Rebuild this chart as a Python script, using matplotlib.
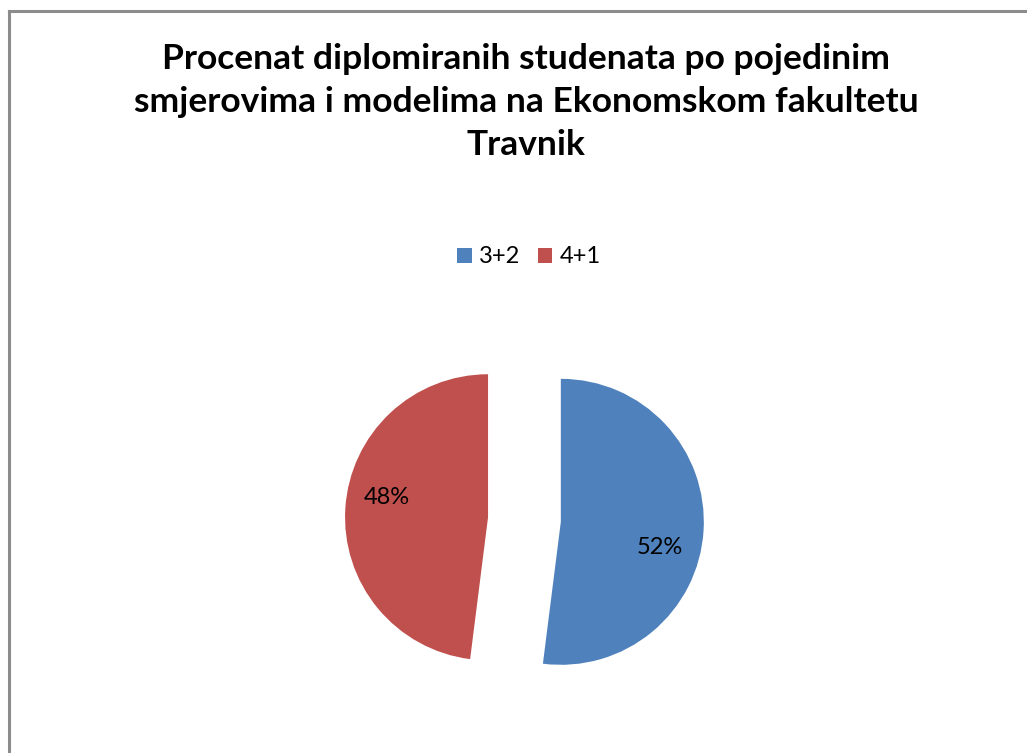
import matplotlib
matplotlib.use("Agg")
import matplotlib.pyplot as plt
from matplotlib.lines import Line2D
from matplotlib.patches import Patch

title = "Procenat diplomiranih studenata po pojedinim\nsmjerovima i modelima na Ekonomskom fakultetu\nTravnik"
labels = ["3+2", "4+1"]
shares = [52, 48]
colors = ["#4F81BD", "#C0504D"]

plt.rcParams["font.family"] = ["Lato", "DejaVu Sans"]

fig = plt.figure(figsize=(10.27, 7.53), dpi=100)

# chart area border (left and top only visible)
fig.add_artist(Line2D([8.5 / 1027, 8.5 / 1027], [0, 1 - 10.5 / 753],
                      transform=fig.transFigure, color="#8c8c8c", lw=2.2))
fig.add_artist(Line2D([8.5 / 1027, 1], [1 - 10.5 / 753, 1 - 10.5 / 753],
                      transform=fig.transFigure, color="#8c8c8c", lw=2.2))

fig.text(0.512, 1 - 102 / 753, title, ha="center", va="center",
         fontsize=25.5, fontweight="bold", linespacing=1.44)

ax = fig.add_axes([0.3018, 0.0252, 0.4177, 0.5697])
wedges, texts, autotexts = ax.pie(
    shares, colors=colors, startangle=90, counterclock=False,
    explode=[0.255, 0.255], autopct="%1.0f%%", pctdistance=0.7,
    textprops={"fontsize": 17},
)
# Excel-like label placement
offsets = [(0.69, -0.18), (-0.71, 0.14)]
for w, t, (dx, dy) in zip(wedges, autotexts, offsets):
    cx, cy = w.center
    t.set_position((cx + dx, cy + dy))
ax.set_xlim(-1.5, 1.5)
ax.set_ylim(-1.5, 1.5)
ax.set_aspect("equal")
ax.axis("off")

handles = [Patch(facecolor=c, edgecolor="none") for c in colors]
fig.legend(handles, labels, loc="center", bbox_to_anchor=(0.515, 1 - 257 / 753),
           ncol=2, frameon=False, fontsize=17, handlelength=0.62, handleheight=0.62,
           handletextpad=0.3, columnspacing=0.75)

fig.savefig("out.png", dpi=100)
